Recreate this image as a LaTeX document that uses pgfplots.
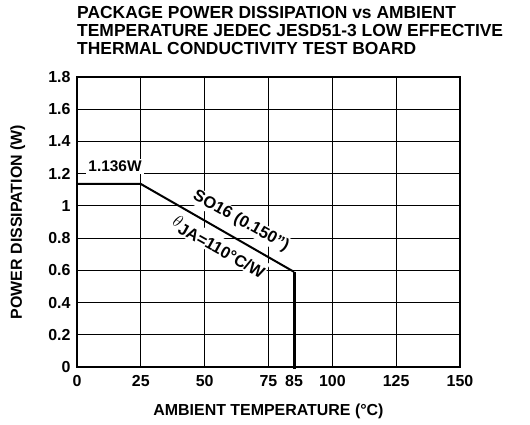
\documentclass[border=0pt]{standalone}
\usepackage{fontspec}
\setmainfont{Liberation Sans}
\usepackage{pgfplots}
\pgfplotsset{compat=1.18}
\begin{document}
\begin{tikzpicture}[x=1bp,y=1bp]
\begin{axis}[
  at={(0,0)}, anchor=south west,
  scale only axis, width=383bp, height=290bp,
  xmin=0, xmax=150, ymin=0, ymax=1.8,
  xtick={0,25,50,75,100,125,150},
  extra x ticks={85},
  extra x tick style={grid=none},
  ytick={0,0.2,0.4,0.6,0.8,1,1.2,1.4,1.6,1.8},
  grid=major,
  grid style={black, line width=0.9bp},
  axis line style={line width=1.1bp},
  major tick length=0pt,
  tick label style={font=\fontsize{16}{18}\selectfont\bfseries},
  xticklabel style={yshift=-5bp},
  yticklabel style={xshift=-3bp},
  /pgf/number format/assume math mode=true,
  xlabel={AMBIENT TEMPERATURE (°C)},
  ylabel={POWER DISSIPATION (W)},
  label style={font=\fontsize{16}{18}\selectfont\bfseries},
  xlabel style={at={(axis description cs:0.5,-0.152)}, anchor=center},
  ylabel style={at={(axis description cs:-0.155,0.5)}, anchor=center},
  clip=false,
]
\addplot[black, line width=2bp] coordinates {(0,1.136) (25,1.136) (85,0.5905)};
\addplot[black, line width=3bp] coordinates {(85,0.5905) (85,-0.012)};
\node[fill=white, inner sep=2bp, font=\fontsize{15.5}{17}\selectfont\bfseries] at (axis cs:14.9,1.246) {1.136W};
\node[fill=white, inner sep=1.2bp, rotate=-29, font=\fontsize{16.5}{18}\selectfont\bfseries] at (axis cs:64.2,0.905) {SO16 (0.150”)};
\node[fill=white, inner sep=1.2bp, rotate=-29, font=\fontsize{16.5}{18}\selectfont\bfseries] at (axis cs:55.6,0.748) {\raisebox{4bp}{$\theta$}JA=110°C/W};
\end{axis}
\node[anchor=north west, inner sep=0pt, align=left, font=\fontsize{17.5}{18}\selectfont\bfseries] at (0,361bp)
  {PACKAGE POWER DISSIPATION vs AMBIENT\\TEMPERATURE JEDEC JESD51-3 LOW EFFECTIVE\\THERMAL CONDUCTIVITY TEST BOARD};
\pgfresetboundingbox
\path[use as bounding box] (-77bp,-58bp) rectangle (453bp,367bp);
\end{tikzpicture}
\end{document}
